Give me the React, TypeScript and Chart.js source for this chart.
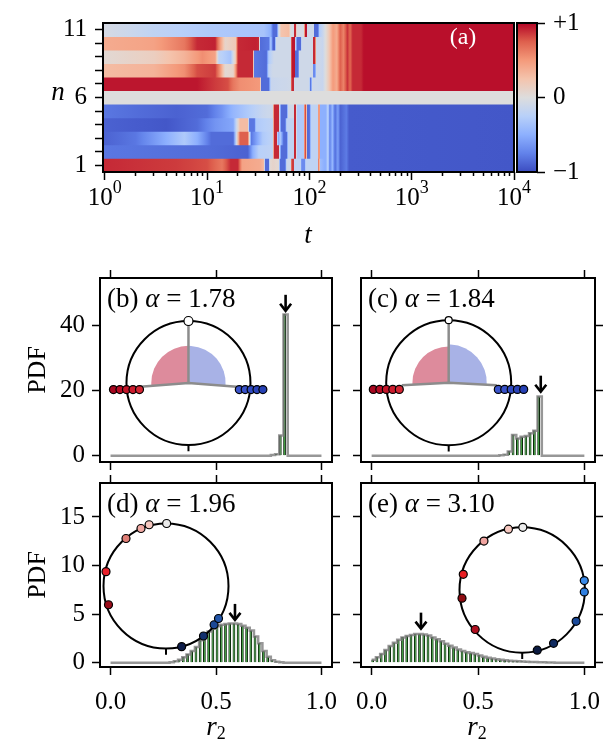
import React, { useEffect, useRef } from 'react';
import { Chart, registerables } from 'chart.js';

Chart.register(...registerables);

const FONT = "'Liberation Serif', 'DejaVu Serif', serif";
const PAGE_W = 616;
const PAGE_H = 743;
const TICK_FONT = 25;

// ---------------- (a) heat map data ----------------
const T_MIN = 0.96;
const T_MAX = 10000;
const ROW_IDS = [1, 2, 3, 4, 5, 6, 7, 8, 9, 10, 11];
const ROW_LABELED = [1, 6, 11];
const T_TICKS = [1, 2, 3, 4, 5, 6, 7, 8, 9, 10, 20, 30, 40, 50, 60, 70, 80, 90, 100, 200, 300, 400, 500, 600, 700, 800, 900, 1000, 2000, 3000, 4000, 5000, 6000, 7000, 8000, 9000, 10000];
const T_DECADES = [1, 10, 100, 1000, 10000];
const T_DECADE_EXP = ['0', '1', '2', '3', '4'];
const CBAR_TICKS = [-1, 0, 1];
const CBAR_LABELS = ['−1', '0', '+1'];

// (t, value) key points of every row
const RED_TAIL = [[135, -0.15], [155, 0.2], [170, 0.5], [185, 0.4], [200, 0.75], [215, 0.6], [235, 0.88], [250, 0.72], [265, 0.9], [320, 0.9], [340, 0.97], [10000, 0.97]];
const BLUE_TAIL = [[145, -0.5], [152, -0.2], [158, -0.75], [168, -0.45], [178, -0.85], [190, -0.6], [200, -0.9], [230, -0.78], [245, -0.93], [10000, -0.95]];

const ROW_1 = [[0.96, 0.9], [5, 0.85], [10, 0.8], [14, 0.65], [17, 0.9], [20, 0.9], [22, 0.45], [33, 0.4], [36, 0.3], [37, -0.85], [40, -0.85], [41, 0.05], [44, 0.1], [50, 0.05], [52, -0.85], [58, -0.85], [60, -0.1], [66, -0.1], [67, 0.85], [70, 0.85], [71, -0.2], [82, -0.2], [84, -0.7], [90, -0.7], [92, -0.2], [120, -0.2], [122, 0.6], [125, 0.6], [127, -0.4], [140, -0.5], ...BLUE_TAIL];
const ROW_2 = [[0.96, -0.8], [10, -0.85], [25, -0.9], [28, -0.5], [32, -0.25], [44, -0.2], [45, 0.9], [50, 0.9], [51, -0.1], [53, -0.85], [60, -0.85], [62, -0.2], [70, -0.2], [71, 0.9], [74, 0.9], [75, -0.3], [88, -0.3], [90, 0.8], [93, 0.8], [95, -0.85], [100, -0.85], [104, -0.2], [120, -0.2], [122, 0.5], [126, 0.5], [128, -0.5], ...BLUE_TAIL];
const ROW_3 = [[0.96, -0.9], [2, -0.8], [4, -0.5], [6, -0.3], [8, -0.5], [11, -0.85], [18, -0.85], [21, 0.75], [25, 0.75], [27, -0.8], [30, -0.6], [35, -0.3], [44, -0.2], [45, 0.9], [48, 0.9], [49, -0.6], [52, -0.3], [56, -0.85], [60, -0.85], [62, -0.2], [70, -0.2], [71, 0.9], [74, 0.9], [75, -0.3], [88, -0.3], [90, 0.8], [93, 0.8], [95, -0.85], [100, -0.85], [104, -0.2], [120, -0.2], [122, 0.5], [126, 0.5], [128, -0.5], ...BLUE_TAIL];
const ROW_4 = [[0.96, -0.9], [4, -0.95], [8, -0.85], [12, -0.65], [18, -0.55], [21, 0.3], [25, 0.3], [26, -0.8], [29, -0.8], [30, -0.3], [44, -0.2], [45, 0.9], [50, 0.9], [51, -0.1], [53, -0.85], [58, -0.85], [60, -0.2], [70, -0.2], [71, 0.9], [74, 0.9], [75, -0.3], [88, -0.3], [90, 0.8], [93, 0.8], [95, -0.85], [100, -0.85], [104, -0.2], [120, -0.2], [122, 0.5], [126, 0.5], [128, -0.5], ...BLUE_TAIL];
const ROW_5 = [[0.96, -0.8], [5, -0.9], [10, -0.85], [14, -0.65], [18, -0.45], [25, -0.3], [35, -0.15], [44, -0.1], [45, 0.9], [50, 0.9], [51, -0.1], [53, -0.85], [60, -0.85], [62, -0.1], [70, -0.1], [71, 0.9], [74, 0.9], [75, -0.3], [88, -0.3], [90, 0.8], [93, 0.8], [95, -0.85], [100, -0.85], [104, -0.2], [120, -0.2], [122, 0.5], [126, 0.5], [128, -0.5], ...BLUE_TAIL];
const ROW_6 = [[0.96, 0], [10000, 0]];
const ROW_7 = [[0.96, 0.95], [8, 0.95], [12, 0.85], [16, 0.8], [18, 0.65], [21, 0.55], [33, 0.5], [34, -0.85], [40, -0.85], [42, -0.15], [66, -0.1], [67, 0.9], [70, 0.9], [71, -0.1], [100, -0.1], [101, -0.8], [104, -0.8], [106, -0.1], ...RED_TAIL];
const ROW_8 = [[0.96, 0.3], [3, 0.35], [6, 0.55], [8, 0.8], [12, 0.85], [13.5, 0.5], [15, 0.05], [18, 0.1], [20, 0.9], [28, 0.9], [29, -0.8], [38, -0.85], [40, -0.2], [44, -0.1], [66, -0.1], [67, 0.95], [72, 0.95], [73, -0.85], [78, -0.85], [79, -0.1], [108, -0.1], [109, -0.7], [114, -0.7], [116, -0.1], ...RED_TAIL];
const ROW_9 = [[0.96, 0.05], [3, 0.15], [6, 0.35], [9, 0.55], [12, 0.45], [13, -0.2], [17, -0.35], [19, 0.2], [20, 0.9], [28, 0.9], [29, -0.8], [38, -0.85], [40, -0.3], [45, -0.1], [66, -0.1], [67, 0.95], [72, 0.95], [73, -0.85], [78, -0.85], [79, -0.1], [108, -0.1], [109, 0.9], [114, 0.9], [116, -0.1], ...RED_TAIL];
const ROW_10 = [[0.96, 0.4], [3, 0.45], [6, 0.65], [8, 0.9], [12, 0.92], [13, 0.6], [15, 0.1], [19, 0.2], [20, 0.9], [30, 0.92], [32, 0.9], [33, -0.85], [40, -0.8], [42, -0.3], [44, -0.9], [46, -0.9], [47, -0.1], [66, -0.1], [67, 0.95], [72, 0.95], [73, -0.2], [76, -0.85], [82, -0.85], [84, -0.1], [108, -0.1], [109, 0.9], [114, 0.9], [116, -0.1], ...RED_TAIL];
const ROW_11 = [[0.96, -0.05], [3, -0.2], [10, -0.3], [36, -0.35], [42, -0.5], [44, -0.85], [48, -0.85], [50, -0.1], [53, 0.25], [63, 0.3], [66, -0.05], [70, -0.05], [71, 0.9], [74, 0.9], [75, -0.05], [89, -0.05], [90, 0.95], [94, 0.95], [95, -0.1], [111, -0.1], [112, -0.85], [122, -0.85], [124, -0.3], ...RED_TAIL];
const ROWS = [ROW_1, ROW_2, ROW_3, ROW_4, ROW_5, ROW_6, ROW_7, ROW_8, ROW_9, ROW_10, ROW_11];

// ---------------- (b)-(e) histogram data ----------------
const R2_BINS = [0.01, 0.03, 0.05, 0.07, 0.09, 0.11, 0.13, 0.15, 0.17, 0.19, 0.21, 0.23, 0.25, 0.27, 0.29, 0.31, 0.33, 0.35, 0.37, 0.39, 0.41, 0.43, 0.45, 0.47, 0.49, 0.51, 0.53, 0.55, 0.57, 0.59, 0.61, 0.63, 0.65, 0.67, 0.69, 0.71, 0.73, 0.75, 0.77, 0.79, 0.81, 0.83, 0.85, 0.87, 0.89, 0.91, 0.93, 0.95, 0.97, 0.99];
const R2_EDGES = [0, 1];
const R2_TICKS = [0, 0.5, 1];
const R2_TICK_LABELS = ['0.0', '0.5', '1.0'];
const PDF_TICKS_TOP = [0, 20, 40];
const PDF_TICKS_BOTTOM = [0, 5, 10, 15];

const PDF_B = [0, 0, 0, 0, 0, 0, 0, 0, 0, 0, 0, 0, 0, 0, 0, 0, 0, 0, 0, 0, 0, 0, 0, 0, 0, 0, 0, 0, 0, 0, 0, 0, 0, 0, 0, 0, 0, 0, 0.2, 0.4, 6.2, 43.5, 0, 0, 0, 0, 0, 0, 0, 0];
const PDF_C = [0, 0, 0, 0, 0, 0, 0, 0, 0, 0, 0, 0, 0, 0, 0, 0, 0, 0, 0, 0, 0, 0, 0, 0, 0, 0, 0, 0, 0, 0, 0.1, 0.3, 1.3, 6.4, 5.3, 5.8, 6.05, 6.9, 7.7, 18.2, 0, 0, 0, 0, 0, 0, 0, 0, 0, 0];
const PDF_D = [0, 0, 0, 0, 0, 0, 0, 0, 0, 0, 0, 0, 0, 0, 0.05, 0.15, 0.3, 0.55, 0.85, 1.2, 1.6, 2.3, 2.8, 3.2, 3.5, 3.75, 3.9, 3.97, 4.02, 4.02, 3.97, 3.8, 3.6, 3.3, 2.7, 2.0, 1.2, 0.6, 0.25, 0.1, 0.03, 0, 0, 0, 0, 0, 0, 0, 0, 0];
const PDF_E = [0.3, 0.55, 0.9, 1.3, 1.7, 2.05, 2.35, 2.6, 2.75, 2.85, 2.95, 2.95, 2.9, 2.8, 2.6, 2.4, 2.2, 1.95, 1.75, 1.55, 1.35, 1.2, 1.08, 0.98, 0.88, 0.74, 0.6, 0.5, 0.42, 0.35, 0.29, 0.24, 0.2, 0.16, 0.13, 0.11, 0.09, 0.07, 0.06, 0.05, 0.03, 0.02, 0.01, 0, 0, 0, 0, 0, 0, 0];

const ARROW_B = [0.83, 44.6];
const ARROW_C = [0.795, 19.7];
const ARROW_D = [0.59, 4.4];
const ARROW_E = [0.232, 3.5];

// inset phase points (unit-circle coordinates)
const INSET_B_X = [-1.21, -1.105, -1.0, -0.895, -0.79, 0.82, 0.915, 1.01, 1.105, 1.2, 0];
const INSET_B_Y = [-0.105, -0.105, -0.105, -0.105, -0.105, -0.105, -0.105, -0.105, -0.105, -0.105, 1];
const INSET_B_COLORS = ['#a80820', '#b80c24', '#c41428', '#cc1c2e', '#d42633', '#3b55cc', '#3650c8', '#304ac2', '#2b44bb', '#2640b4', '#ffffff'];
const INSET_B_SIZES = [4, 4, 4, 4, 4, 4, 4, 4, 4, 4, 4.5];

const INSET_C_X = [-1.206, -1.102, -0.998, -0.894, -0.79, 0.794, 0.897, 1.0, 1.1, 1.2, 0];
const INSET_C_Y = [-0.107, -0.107, -0.107, -0.107, -0.107, -0.107, -0.107, -0.107, -0.107, -0.107, 1];
const INSET_C_COLORS = INSET_B_COLORS;
const INSET_C_SIZES = [4, 4, 4, 4, 4, 4, 4, 4, 4, 4, 3.5];

const INSET_D_X = [0.01, -0.27, -0.4, -0.64, -0.96, -0.92, 0.25, 0.6, 0.77, 0.84];
const INSET_D_Y = [1.0, 0.98, 0.92, 0.76, 0.23, -0.3, -0.97, -0.8, -0.62, -0.52];
const INSET_D_COLORS = ['#ececec', '#f6c8c0', '#f1aaa4', '#e07e76', '#e8202a', '#9a0d1a', '#0d1d4a', '#12306e', '#1b4896', '#2256aa'];
const INSET_D_SIZES = [4, 4, 4, 4, 4, 4, 4, 4, 4, 4];

const INSET_E_X = [0.01, -0.22, -0.61, -0.94, -0.96, -0.75, 0.24, 0.5, 0.86, 0.99, 0.99];
const INSET_E_Y = [1.0, 0.97, 0.78, 0.25, -0.13, -0.63, -0.96, -0.85, -0.5, -0.03, 0.15];
const INSET_E_COLORS = ['#ececec', '#f6c8c0', '#f0a4a0', '#e81e22', '#8e0c12', '#b01020', '#0b1a40', '#102a60', '#1a4a9a', '#2f7fe0', '#3a8ae8'];
const INSET_E_SIZES = [4, 4, 4, 4, 4, 4, 4, 4, 4, 4, 4];

const SPOKE_B_LR = { x: [-0.78, 0, 0.78], y: [-0.06, 0, -0.06] };
const SPOKE_C_LR = { x: [-0.75, 0, 0.77], y: [-0.04, 0, -0.04] };
const SPOKE_UP = { x: [0, 0], y: [0, 1] };
const BOTTOM_MARK = { x: [0, 0], y: [-1, -1.1] };

// ---------------- helpers ----------------
const COOLWARM = [
  [59, 76, 192], [98, 130, 234], [141, 176, 254], [184, 208, 249], [221, 221, 221],
  [244, 196, 173], [244, 154, 123], [222, 96, 77], [180, 4, 38],
];

function coolwarm(v: number): string {
  const s = Math.max(0, Math.min(1, (v + 1) / 2)) * (COOLWARM.length - 1);
  const i = Math.min(COOLWARM.length - 2, Math.floor(s));
  const f = s - i;
  const a = COOLWARM[i];
  const b = COOLWARM[i + 1];
  return `rgb(${Math.round(a[0] + (b[0] - a[0]) * f)},${Math.round(a[1] + (b[1] - a[1]) * f)},${Math.round(a[2] + (b[2] - a[2]) * f)})`;
}

const clamp01 = (v: number) => Math.max(0, Math.min(1, v));

function rowGradient(chart: any, row: number[][]) {
  const xs = chart.scales.x;
  const area = chart.chartArea;
  if (!xs || !area) return '#dddddd';
  const x0 = area.left;
  const x1 = area.right;
  const g = chart.ctx.createLinearGradient(x0, 0, x1, 0);
  const pos = (t: number) => clamp01((xs.getPixelForValue(t) - x0) / (x1 - x0));
  for (let k = 0; k < row.length; k++) {
    const [t, v] = row[k];
    if (k > 0) {
      const [tp, vp] = row[k - 1];
      const p0 = pos(tp);
      const p1 = pos(t);
      for (let s = 1; s < 4; s++) {
        const f = s / 4;
        g.addColorStop(p0 + (p1 - p0) * f, coolwarm(vp + (v - vp) * f));
      }
    }
    g.addColorStop(pos(t), coolwarm(v));
  }
  return g;
}

type Seg = { t: string; it?: boolean; size?: number; dy?: number };
type TextItem = { x: number; y: number; size: number; segs: Seg[]; align?: string; color?: string; rot?: number; xv?: number };

function drawText(ctx: CanvasRenderingContext2D, item: TextItem, x0: number) {
  ctx.save();
  ctx.translate(x0, item.y);
  if (item.rot) ctx.rotate(item.rot);
  ctx.textBaseline = 'middle';
  ctx.textAlign = 'left';
  ctx.fillStyle = item.color || '#000';
  const fontOf = (s: Seg) => `${s.it ? 'italic ' : ''}${s.size || item.size}px ${FONT}`;
  let total = 0;
  for (const s of item.segs) {
    ctx.font = fontOf(s);
    total += ctx.measureText(s.t).width;
  }
  let x = item.align === 'center' ? -total / 2 : 0;
  for (const s of item.segs) {
    ctx.font = fontOf(s);
    ctx.fillText(s.t, x, s.dy || 0);
    x += ctx.measureText(s.t).width;
  }
  ctx.restore();
}

type Wedge = { from: number; to: number; r: number; color: string };
type Decor = { texts?: TextItem[]; arrow?: number[]; inset?: { afterIndex: number; wedges: Wedge[] } };

function decorPlugin(d: Decor) {
  return {
    id: 'decor',
    afterDatasetDraw(chart: any, args: any) {
      if (!d.inset || args.index !== d.inset.afterIndex) return;
      const ix = chart.scales.ix;
      const iy = chart.scales.iy;
      const ctx = chart.ctx;
      const cx = ix.getPixelForValue(0);
      const cy = iy.getPixelForValue(0);
      const R = ix.getPixelForValue(1) - cx;
      ctx.save();
      for (const w of d.inset.wedges) {
        const r = ix.getPixelForValue(w.r) - cx;
        ctx.beginPath();
        ctx.moveTo(cx, cy);
        ctx.arc(cx, cy, r, (-w.from * Math.PI) / 180, (-w.to * Math.PI) / 180, true);
        ctx.closePath();
        ctx.fillStyle = w.color;
        ctx.fill();
      }
      ctx.beginPath();
      ctx.arc(cx, cy, R, 0, Math.PI * 2);
      ctx.lineWidth = 2;
      ctx.strokeStyle = '#000';
      ctx.stroke();
      ctx.restore();
    },
    afterDatasetsDraw(chart: any) {
      const ctx = chart.ctx;
      const a = chart.chartArea;
      ctx.save();
      ctx.strokeStyle = '#000';
      ctx.lineWidth = 2;
      ctx.strokeRect(a.left, a.top, a.right - a.left, a.bottom - a.top);
      if (d.arrow) {
        const px = chart.scales.x.getPixelForValue(d.arrow[0]);
        const py = chart.scales.y.getPixelForValue(d.arrow[1]);
        ctx.lineWidth = 2.6;
        ctx.lineJoin = 'miter';
        ctx.beginPath();
        ctx.moveTo(px, py - 16);
        ctx.lineTo(px, py - 1);
        ctx.stroke();
        ctx.beginPath();
        ctx.moveTo(px - 5.5, py - 7);
        ctx.lineTo(px, py);
        ctx.lineTo(px + 5.5, py - 7);
        ctx.stroke();
      }
      ctx.restore();
    },
    afterDraw(chart: any) {
      for (const t of d.texts || []) {
        const x0 = t.xv !== undefined ? chart.scales.x.getPixelForValue(t.xv) : t.x;
        drawText(chart.ctx, t, x0);
      }
    },
  };
}

const tickGrid = () => ({
  display: true,
  drawOnChartArea: false,
  drawTicks: true,
  tickLength: 8,
  color: '#000',
  tickColor: '#000',
  tickWidth: 1.5,
  offset: false,
});
const fixedTicks = (vals: number[], majors?: number[]) => (sc: any) => {
  sc.ticks = vals.map((v) => ({ value: v, major: majors ? majors.includes(v) : false }));
};
const tickFont = { family: FONT, size: TICK_FONT };

// ---------------- charts ----------------
function makeHeatmap(canvas: HTMLCanvasElement) {
  const L = 103, T = 14, R = 514, B = 172;
  const decadeLabels: TextItem[] = T_DECADES.map((v, i) => ({
    x: 0,
    xv: v,
    y: 198,
    size: TICK_FONT,
    align: 'center',
    segs: [{ t: '10' }, { t: T_DECADE_EXP[i], size: 18, dy: -10 }],
  }));
  return new Chart(canvas, {
    type: 'bar',
    data: {
      datasets: [
        {
          data: ROWS.map((_, i) => ({ x: [T_MIN, T_MAX], y: ROW_IDS[i] })) as any,
          backgroundColor: (c: any) => (c.type === 'data' ? rowGradient(c.chart, ROWS[c.dataIndex]) : '#ddd'),
          borderWidth: 0,
          borderSkipped: false,
          barPercentage: 1,
          categoryPercentage: 1,
        } as any,
      ],
    },
    options: {
      indexAxis: 'y',
      animation: false,
      responsive: false,
      events: [],
      layout: { padding: { left: 0, right: PAGE_W - R, top: T, bottom: 0 } },
      plugins: { legend: { display: false }, tooltip: { enabled: false } },
      scales: {
        x: {
          type: 'logarithmic',
          min: T_MIN,
          max: T_MAX,
          afterBuildTicks: fixedTicks(T_TICKS, T_DECADES),
          ticks: {
            autoSkip: false,
            maxRotation: 0,
            minRotation: 0,
            padding: 2,
            color: '#000',
            font: tickFont,
            callback: () => '',
          },
          grid: {
            ...tickGrid(),
            tickBorderDash: (c: any) => (c.tick && c.tick.major ? [] : [4, 40]),
          },
          border: { display: false },
          afterFit: (sc: any) => {
            sc.height = PAGE_H - B;
          },
        } as any,
        y: {
          type: 'linear',
          min: 0.5,
          max: 11.5,
          offset: false,
          afterBuildTicks: fixedTicks(ROW_IDS),
          ticks: {
            autoSkip: false,
            padding: 8,
            color: '#000',
            font: tickFont,
            callback: (v: any) => (ROW_LABELED.includes(Number(v)) ? String(v) : ''),
          },
          grid: tickGrid(),
          border: { display: false },
          afterFit: (sc: any) => {
            sc.width = L;
          },
        } as any,
      },
    } as any,
    plugins: [
      decorPlugin({
        texts: [
          ...decadeLabels,
          { x: 58, y: 93, size: 27, segs: [{ t: 'n', it: true }], align: 'center' },
          { x: 308, y: 236, size: 27, segs: [{ t: 't', it: true }], align: 'center' },
          { x: 463, y: 38, size: 24, segs: [{ t: '(a)' }], align: 'center', color: '#ffffff' },
        ],
      }) as any,
    ],
  });
}

function makeColorbar(canvas: HTMLCanvasElement) {
  const L = 517, T = 14, R = 537, B = 172;
  return new Chart(canvas, {
    type: 'bar',
    data: {
      labels: ['cbar'],
      datasets: [
        {
          data: [[CBAR_TICKS[0], CBAR_TICKS[2]]] as any,
          backgroundColor: (c: any) => {
            const a = c.chart.chartArea;
            if (!a) return '#ddd';
            const g = c.chart.ctx.createLinearGradient(0, a.bottom, 0, a.top);
            COOLWARM.forEach((_, i) => g.addColorStop(i / (COOLWARM.length - 1), coolwarm(-1 + (2 * i) / (COOLWARM.length - 1))));
            return g;
          },
          borderWidth: 0,
          borderSkipped: false,
          barPercentage: 1,
          categoryPercentage: 1,
        } as any,
      ],
    },
    options: {
      animation: false,
      responsive: false,
      events: [],
      layout: { padding: { left: L, right: 0, top: T, bottom: PAGE_H - B } },
      plugins: { legend: { display: false }, tooltip: { enabled: false } },
      scales: {
        x: { display: false },
        y: {
          position: 'right',
          min: -1,
          max: 1,
          afterBuildTicks: fixedTicks(CBAR_TICKS),
          ticks: {
            padding: 8,
            color: '#000',
            font: tickFont,
            callback: (v: any) => CBAR_LABELS[CBAR_TICKS.indexOf(Number(v))],
          },
          grid: tickGrid(),
          border: { display: false },
          afterFit: (sc: any) => {
            sc.width = PAGE_W - R;
          },
        } as any,
      },
    } as any,
    plugins: [decorPlugin({}) as any],
  });
}

type HistSpec = {
  values: number[];
  yMin: number;
  yMax: number;
  yTicks: number[];
  yLabels: boolean;
  xLabels: boolean;
  area: number[];
  view: number[];
  px: number[];
  py: number[];
  colors: string[];
  sizes: number[];
  spokes: { x: number[]; y: number[] }[];
  wedges: Wedge[];
  arrow: number[];
  texts: TextItem[];
};

function makeHist(canvas: HTMLCanvasElement, s: HistSpec) {
  const [L, T, R, B] = s.area;
  const AL = s.yLabels ? L : 10;
  const AB = s.xLabels ? PAGE_H - B : 10;
  const AT = 10;
  const AR = 10;
  const binPts = s.values.map((v, i) => ({ x: R2_BINS[i], y: v }));
  const datasets: any[] = [
    {
      type: 'bar',
      data: binPts,
      backgroundColor: '#2a9c2a',
      borderColor: '#0b260b',
      borderWidth: 1,
      borderSkipped: 'start',
      barPercentage: 1,
      categoryPercentage: 1,
      xAxisID: 'x',
      yAxisID: 'y',
      order: 10,
    },
    {
      type: 'line',
      data: [{ x: R2_EDGES[0], y: s.values[0] }, ...binPts, { x: R2_EDGES[1], y: s.values[s.values.length - 1] }],
      stepped: 'middle',
      borderColor: 'rgba(125,125,125,0.8)',
      borderWidth: 2.5,
      pointRadius: 0,
      fill: false,
      xAxisID: 'x',
      yAxisID: 'y',
      order: 9,
    },
    ...s.spokes.map((sp) => ({
      type: 'line',
      data: sp.x.map((x, i) => ({ x, y: sp.y[i] })),
      borderColor: '#8c8c8c',
      borderWidth: 2.5,
      pointRadius: 0,
      fill: false,
      xAxisID: 'ix',
      yAxisID: 'iy',
      order: 5,
    })),
    {
      type: 'line',
      data: BOTTOM_MARK.x.map((x, i) => ({ x, y: BOTTOM_MARK.y[i] })),
      borderColor: '#000',
      borderWidth: 2,
      pointRadius: 0,
      fill: false,
      xAxisID: 'ix',
      yAxisID: 'iy',
      order: 4,
    },
    {
      type: 'line',
      showLine: false,
      data: s.px.map((x, i) => ({ x, y: s.py[i] })),
      pointRadius: s.sizes,
      pointBackgroundColor: s.colors,
      pointBorderColor: '#000',
      pointBorderWidth: 1.2,
      xAxisID: 'ix',
      yAxisID: 'iy',
      order: 1,
      clip: false,
    },
  ];
  return new Chart(canvas, {
    type: 'bar',
    data: { datasets },
    options: {
      animation: false,
      responsive: false,
      events: [],
      layout: { padding: { left: L - AL, right: PAGE_W - R - AR, top: T - AT, bottom: PAGE_H - B - AB } },
      plugins: { legend: { display: false }, tooltip: { enabled: false } },
      scales: {
        x: {
          type: 'linear',
          position: 'bottom',
          min: -0.05,
          max: 1.05,
          offset: false,
          afterBuildTicks: fixedTicks(R2_TICKS),
          ticks: {
            display: s.xLabels,
            autoSkip: false,
            maxRotation: 0,
            padding: 12,
            color: '#000',
            font: tickFont,
            callback: (v: any) => R2_TICK_LABELS[R2_TICKS.indexOf(Number(v))],
          },
          grid: tickGrid(),
          border: { display: false },
          afterFit: (sc: any) => {
            sc.height = AB;
          },
        },
        x2: {
          type: 'linear',
          axis: 'x',
          position: 'top',
          min: -0.05,
          max: 1.05,
          offset: false,
          afterBuildTicks: fixedTicks(R2_TICKS),
          ticks: { display: false },
          grid: tickGrid(),
          border: { display: false },
          afterFit: (sc: any) => {
            sc.height = AT;
          },
        },
        y: {
          type: 'linear',
          position: 'left',
          min: s.yMin,
          max: s.yMax,
          afterBuildTicks: fixedTicks(s.yTicks),
          ticks: {
            display: s.yLabels,
            autoSkip: false,
            padding: 7,
            color: '#000',
            font: tickFont,
            callback: (v: any) => String(v),
          },
          grid: tickGrid(),
          border: { display: false },
          afterFit: (sc: any) => {
            sc.width = AL;
          },
        },
        y2: {
          type: 'linear',
          axis: 'y',
          position: 'right',
          min: s.yMin,
          max: s.yMax,
          afterBuildTicks: fixedTicks(s.yTicks),
          ticks: { display: false },
          grid: tickGrid(),
          border: { display: false },
          afterFit: (sc: any) => {
            sc.width = AR;
          },
        },
        ix: { type: 'linear', axis: 'x', position: 'bottom', display: false, offset: false, grid: { offset: false }, min: s.view[0], max: s.view[1] },
        iy: { type: 'linear', axis: 'y', position: 'left', display: false, offset: false, grid: { offset: false }, min: s.view[2], max: s.view[3] },
      },
    } as any,
    plugins: [decorPlugin({ texts: s.texts, arrow: s.arrow, inset: { afterIndex: 1, wedges: s.wedges } }) as any],
  });
}

const label = (x: number, y: number, tag: string, val: string): TextItem => ({
  x,
  y,
  size: 27,
  segs: [{ t: tag }, { t: ' ' }, { t: 'α', it: true }, { t: ' = ' + val }],
});
const pdfLabel = (y: number): TextItem => ({ x: 38, y, size: 26, segs: [{ t: 'PDF' }], align: 'center', rot: -Math.PI / 2 });
const r2Label = (x: number): TextItem => ({ x, y: 728, size: 27, segs: [{ t: 'r', it: true }, { t: '2', size: 18, dy: 6 }], align: 'center' });

const RED_WEDGE = '#dd8b9c';
const BLUE_WEDGE = '#a8b2e6';

const SPEC_B: HistSpec = {
  values: PDF_B, yMin: -1.95, yMax: 54.7, yTicks: PDF_TICKS_TOP, yLabels: true, xLabels: false,
  area: [100, 278, 332, 462], view: [-1.427, 2.315, -1.274, 1.694],
  px: INSET_B_X, py: INSET_B_Y, colors: INSET_B_COLORS, sizes: INSET_B_SIZES,
  spokes: [SPOKE_B_LR, SPOKE_UP],
  wedges: [{ from: 90, to: 184, r: 0.6, color: RED_WEDGE }, { from: -4, to: 90, r: 0.6, color: BLUE_WEDGE }],
  arrow: ARROW_B,
  texts: [pdfLabel(370), label(107, 300, '(b)', '1.78')],
};
const SPEC_C: HistSpec = {
  values: PDF_C, yMin: -1.95, yMax: 54.7, yTicks: PDF_TICKS_TOP, yLabels: false, xLabels: false,
  area: [361, 278, 595, 462], view: [-1.403, 2.341, -1.269, 1.675],
  px: INSET_C_X, py: INSET_C_Y, colors: INSET_C_COLORS, sizes: INSET_C_SIZES,
  spokes: [SPOKE_C_LR, SPOKE_UP],
  wedges: [{ from: 90, to: 183, r: 0.58, color: RED_WEDGE }, { from: -3, to: 90, r: 0.61, color: BLUE_WEDGE }],
  arrow: ARROW_C,
  texts: [label(368, 300, '(c)', '1.84')],
};
const SPEC_D: HistSpec = {
  values: PDF_D, yMin: -0.45, yMax: 18.5, yTicks: PDF_TICKS_BOTTOM, yLabels: true, xLabels: true,
  area: [100, 483, 332, 667], view: [-1.056, 2.656, -1.296, 1.648],
  px: INSET_D_X, py: INSET_D_Y, colors: INSET_D_COLORS, sizes: INSET_D_SIZES,
  spokes: [], wedges: [],
  arrow: ARROW_D,
  texts: [pdfLabel(575), label(107, 505, '(d)', '1.96'), r2Label(216)],
};
const SPEC_E: HistSpec = {
  values: PDF_E, yMin: -0.45, yMax: 18.5, yTicks: PDF_TICKS_BOTTOM, yLabels: false, xLabels: true,
  area: [361, 483, 595, 667], view: [-2.571, 1.161, -1.228, 1.707],
  px: INSET_E_X, py: INSET_E_Y, colors: INSET_E_COLORS, sizes: INSET_E_SIZES,
  spokes: [], wedges: [],
  arrow: ARROW_E,
  texts: [label(368, 505, '(e)', '3.10'), r2Label(477)],
};

export default function App() {
  const refs = useRef<(HTMLCanvasElement | null)[]>([]);
  useEffect(() => {
    const c = refs.current;
    const charts = [
      makeHeatmap(c[0]!),
      makeColorbar(c[1]!),
      makeHist(c[2]!, SPEC_B),
      makeHist(c[3]!, SPEC_C),
      makeHist(c[4]!, SPEC_D),
      makeHist(c[5]!, SPEC_E),
    ];
    return () => charts.forEach((ch) => ch.destroy());
  }, []);
  return (
    <div style={{ position: 'absolute', left: 0, top: 0, width: PAGE_W, height: PAGE_H, background: '#fff', overflow: 'hidden' }}>
      {[0, 1, 2, 3, 4, 5].map((i) => (
        <canvas
          key={i}
          ref={(el) => {
            refs.current[i] = el;
          }}
          width={PAGE_W}
          height={PAGE_H}
          style={{ position: 'absolute', left: 0, top: 0, width: PAGE_W, height: PAGE_H }}
        />
      ))}
    </div>
  );
}
